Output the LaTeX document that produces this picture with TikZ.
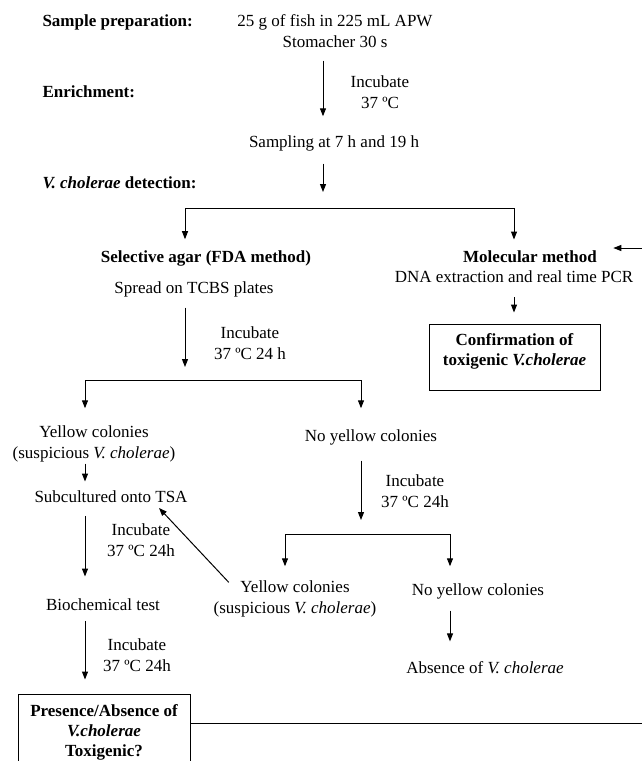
\documentclass[tikz,border=0pt]{standalone}
\usepackage{fontspec}
\setmainfont{Liberation Serif}
\usetikzlibrary{arrows.meta}

\begin{document}
\begin{tikzpicture}[x=1pt,y=-1pt,line width=1pt,
  txt/.style={inner sep=0pt,align=center,font=\fontsize{17}{21}\selectfont},
  hd/.style={txt,anchor=west,font=\fontsize{17}{21}\selectfont\bfseries},
  boxnode/.style={txt,draw,font=\fontsize{17}{20}\selectfont\bfseries},
  arr/.style={-{Triangle[length=8pt,width=6pt]}}]
\useasboundingbox (0,0) rectangle (641,761);

% columns and branch points
\coordinate (cM) at (323,0);
\coordinate (cL) at (185,0);
\coordinate (cR) at (514,0);
\coordinate (cLL) at (85,0);
\coordinate (cC) at (361,0);
\coordinate (cY) at (285,0);
\coordinate (cN) at (450,0);
\coordinate (cE) at (670,0);
\coordinate (split1) at (323,208);
\coordinate (split2) at (185,380);
\coordinate (split3) at (361,534);

% step headings
\node [hd] at (42,22.5) (hprep) {Sample preparation:};
\node [hd] at (42,92) (henr) {Enrichment:};
\node [hd] at (42,183) (hdet) {\textit{V. cholerae} detection:};

% main column
\node [txt] at (335,31) (prep) {25 g of fish in 225 mL APW\\Stomacher 30 s};
\node [txt] at (380,92) (inc1) {Incubate\\37 ºC};
\node [txt] at (334,143.5) (samp) {Sampling at 7 h and 19 h};

% selective agar branch
\node [txt,font=\fontsize{17}{21}\selectfont\bfseries] at (206,258.5) (sel) {Selective agar (FDA method)};
\node [txt] at (194,289.5) (spread) {Spread on TCBS plates};
\node [txt] at (250,343) (inc2) {Incubate\\37 ºC 24 h};
\node [txt] at (94,444) (yc1) {Yellow colonies\\(suspicious \textit{V. cholerae})};
\node [txt] at (371,437.5) (nyc1) {No yellow colonies};
\node [txt] at (111,497) (sub) {Subcultured onto TSA};
\node [txt] at (141,540) (inc3) {Incubate\\37 ºC 24h};
\node [txt] at (103,605) (bio) {Biochemical test};
\node [txt] at (137,655) (inc4) {Incubate\\37 ºC 24h};
\node [boxnode,minimum width=172pt,minimum height=76pt] at (104,732) (pres)
  {Presence/Absence of\\\textit{V.cholerae}\\Toxigenic?};
\node [txt] at (415,491) (inc5) {Incubate\\37 ºC 24h};
\node [txt] at (295,599) (yc2) {Yellow colonies\\(suspicious \textit{V. cholerae})};
\node [txt] at (478,591.5) (nyc2) {No yellow colonies};
\node [txt] at (485,668) (abs) {Absence of \textit{V. cholerae}};

% molecular branch
\node [txt,font=\fontsize{17}{21}\selectfont\bfseries] at (530,257) (mol) {Molecular method};
\node [txt] at (514,277) (dna) {DNA extraction and real time PCR};
\node [boxnode,minimum width=171pt,minimum height=66pt] at (514.5,357) (conf)
  {Confirmation of\\toxigenic \textit{V.cholerae}\\[-6pt]\mbox{}};

% arrows
\draw [arr,shorten <=12.5pt,shorten >=19pt] (prep.south -| cM) -- (samp.north -| cM);
\draw [arr,shorten <=12pt,shorten >=16pt] (samp.south -| cM) -- (split1);
\draw [arr,shorten >=11pt] (split1) -| (sel.north -| cL);
\draw [arr,shorten >=11pt] (split1) -| (mol.north -| cR);
\draw [arr,shorten <=14pt,shorten >=11pt] (dna.south -| cR) -- (conf.north -| cR);

\draw [arr,shorten <=10pt,shorten >=13pt] (spread.south -| cL) -- (split2);
\draw [arr,shorten >=17pt] (split2) -| (yc1.north -| cLL);
\draw [arr,shorten >=21pt] (split2) -| (nyc1.north -| cC);
\draw [arr,shorten <=1pt,shorten >=9pt] (yc1.south -| cLL) -- (sub.north -| cLL);
\draw [arr,shorten <=12.5pt,shorten >=22pt] (sub.south -| cLL) -- (bio.north -| cLL);
\draw [arr,shorten <=9.5pt,shorten >=14pt] (bio.south -| cLL) -- (pres.north -| cLL);

\draw [arr,shorten <=15pt,shorten >=14pt] (nyc1.south -| cC) -- (split3);
\draw [arr,shorten >=14pt] (split3) -| (yc2.north -| cY);
\draw [arr,shorten >=17pt] (split3) -| (nyc2.north -| cN);
\draw [arr,shorten <=11pt,shorten >=20pt] (nyc2.south -| cN) -- (abs.north -| cN);

\draw [arr] ([xshift=15.5pt,yshift=-2pt]yc2.north west) -- ([xshift=48pt,yshift=-4.5pt]sub.south);
\draw [arr] ([yshift=9pt]pres.east) -- ([yshift=9pt]pres.east -| cE)
  |- ([xshift=16pt,yshift=9pt]mol.east);
\end{tikzpicture}
\end{document}
